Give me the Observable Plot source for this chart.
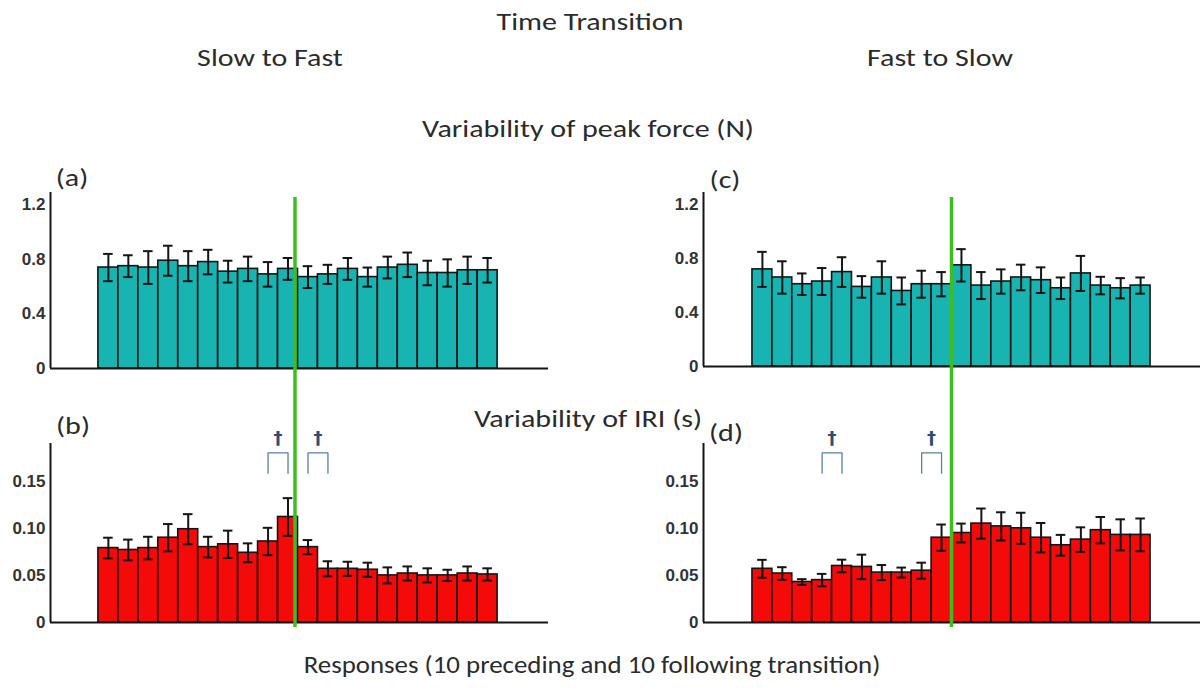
<!DOCTYPE html>
<html>
<head>
<meta charset="utf-8">
<script src="https://cdn.jsdelivr.net/npm/d3@7"></script>
<script src="https://cdn.jsdelivr.net/npm/@observablehq/plot@0.6"></script>
<style>
  html, body { margin: 0; padding: 0; background: #fff; }
  #root { position: relative; width: 1200px; height: 693px; overflow: hidden; background: #fff; }
  .lbl { position: absolute; white-space: nowrap;
         font-family: Carlito, Lato, "Open Sans", sans-serif; color: #2b2b2b; line-height: 1; }
  .panel { position: absolute; }
</style>
</head>
<body>
<div id="root"></div>
<script>
// ---------- data ----------
const responses = [1,2,3,4,5,6,7,8,9,10,11,12,13,14,15,16,17,18,19,20];
const transition = 10;

// Variability of peak force (N)
const forceSlowFastMean = [0.74,0.75,0.74,0.79,0.75,0.78,0.71,0.73,0.69,0.73,0.67,0.69,0.73,0.67,0.74,0.76,0.70,0.70,0.72,0.72];
const forceSlowFastErr  = [0.10,0.08,0.12,0.11,0.11,0.09,0.08,0.09,0.09,0.08,0.08,0.07,0.08,0.07,0.08,0.09,0.09,0.10,0.10,0.09];
const forceFastSlowMean = [0.72,0.66,0.61,0.63,0.70,0.59,0.66,0.56,0.61,0.61,0.75,0.60,0.63,0.66,0.64,0.58,0.69,0.60,0.58,0.60];
const forceFastSlowErr  = [0.13,0.12,0.08,0.10,0.11,0.08,0.12,0.10,0.10,0.09,0.12,0.10,0.09,0.095,0.095,0.08,0.13,0.065,0.075,0.06];

// Variability of IRI (s)
const iriSlowFastMean = [0.079,0.077,0.079,0.090,0.099,0.080,0.083,0.074,0.086,0.112,0.080,0.057,0.057,0.056,0.050,0.052,0.050,0.050,0.052,0.051];
const iriSlowFastErr  = [0.011,0.011,0.012,0.0145,0.016,0.011,0.0145,0.010,0.0145,0.020,0.0075,0.008,0.0075,0.0075,0.0085,0.0075,0.0075,0.006,0.0075,0.0065];
const iriFastSlowMean = [0.057,0.052,0.043,0.045,0.060,0.059,0.053,0.053,0.055,0.090,0.095,0.105,0.102,0.100,0.090,0.082,0.088,0.098,0.093,0.093];
const iriFastSlowErr  = [0.0095,0.0067,0.003,0.0066,0.0067,0.013,0.008,0.0053,0.0085,0.014,0.010,0.016,0.015,0.0165,0.0156,0.011,0.013,0.014,0.0165,0.0174];

// significance brackets (pairs of responses, marked with a dagger)
const sigSlowFast = [[9,10],[11,12]];
const sigFastSlow = [[4,5],[9,10]];

const forceTicks = [0, 0.4, 0.8, 1.2];
const forceTickLabels = ["0", "0.4", "0.8", "1.2"];
const iriTicks = [0, 0.05, 0.10, 0.15];
const iriTickLabels = ["0", "0.05", "0.10", "0.15"];

// ---------- drawing ----------
const root = document.getElementById("root");
const TEAL = "#18b4b2", RED = "#f50a0a", GREEN = "#3cbf1e", INK = "#151515";

function panel(o) {
  const data = responses.map((r, k) => ({r, m: o.mean[k], e: o.err[k]}));
  const labelOf = new Map(o.ticks.map((t, i) => [t, o.tickLabels[i]]));
  const marks = [
    Plot.rectY(data, {x1: d => d.r - 1, x2: d => d.r, y: "m", fill: o.fill, stroke: INK, strokeWidth: 1.6}),
    Plot.ruleX(data, {x: d => d.r - 0.5, y1: d => d.m - d.e, y2: d => d.m + d.e, stroke: INK, strokeWidth: 2}),
    Plot.ruleY(data, {y: d => d.m + d.e, x1: d => d.r - 0.5 - 0.24, x2: d => d.r - 0.5 + 0.24, stroke: INK, strokeWidth: 2}),
    Plot.ruleY(data, {y: d => d.m - d.e, x1: d => d.r - 0.5 - 0.24, x2: d => d.r - 0.5 + 0.24, stroke: INK, strokeWidth: 2}),
    Plot.ruleY([0], {stroke: INK, strokeWidth: 2}),
    Plot.ruleX([o.xDomain[0]], {stroke: INK, strokeWidth: 2}),
    Plot.ruleX([transition], {stroke: GREEN, strokeWidth: 3.5, insetTop: o.greenTop, insetBottom: o.greenBottom, dx: o.greenDx})
  ];
  if (o.sig) {
    const pts = [];
    o.sig.forEach(([a, b], id) => {
      pts.push({id, x: a - 0.5, y: o.bracketLow}, {id, x: a - 0.5, y: o.bracketTop},
               {id, x: b - 0.5, y: o.bracketTop}, {id, x: b - 0.5, y: o.bracketLow});
    });
    marks.push(Plot.line(pts, {x: "x", y: "y", z: "id", stroke: "#5b7fa6", strokeWidth: 1.3}));
    marks.push(Plot.text(o.sig, {x: d => (d[0] + d[1]) / 2 - 0.5, y: o.daggerY, text: () => "\u2020",
      fill: "#2d4c72", fontSize: 18, fontFamily: "DejaVu Sans"}));
  }
  const svg = Plot.plot({
    width: o.width, height: o.height,
    marginLeft: o.marginLeft, marginRight: o.marginRight, marginTop: o.marginTop, marginBottom: o.marginBottom,
    x: {domain: o.xDomain, axis: null},
    y: {domain: [0, o.yMax], ticks: o.ticks, tickFormat: d => labelOf.get(d), tickSize: 0, tickPadding: 5, label: null},
    style: {background: "transparent", overflow: "visible", fontSize: "17px", fontWeight: "bold",
            fontFamily: "Liberation Sans, Arial, sans-serif", color: "#333"},
    marks
  });
  svg.classList.add("panel");
  svg.style.left = o.left + "px";
  svg.style.top = o.top + "px";
  root.appendChild(svg);
}

// top-left (a)
panel({mean: forceSlowFastMean, err: forceSlowFastErr, fill: TEAL, yMax: 1.29, ticks: forceTicks, tickLabels: forceTickLabels,
  left: 0, top: 150, width: 600, height: 300, marginLeft: 50, marginRight: 52, marginTop: 42, marginBottom: 82,
  xDomain: [-2.4, 22.55], greenTop: 5, greenBottom: -75, greenDx: -3});
// top-right (c)
panel({mean: forceFastSlowMean, err: forceFastSlowErr, fill: TEAL, yMax: 1.29, ticks: forceTicks, tickLabels: forceTickLabels,
  left: 600, top: 150, width: 600, height: 300, marginLeft: 103, marginRight: 0, marginTop: 42, marginBottom: 84,
  xDomain: [-2.46, 22.51], greenTop: 5, greenBottom: -77, greenDx: 0});
// bottom-left (b)
panel({mean: iriSlowFastMean, err: iriSlowFastErr, fill: RED, yMax: 0.19, ticks: iriTicks, tickLabels: iriTickLabels,
  left: 0, top: 400, width: 600, height: 240, marginLeft: 50, marginRight: 52, marginTop: 43, marginBottom: 18,
  xDomain: [-2.4, 22.55], greenTop: 0, greenBottom: -5, greenDx: -3,
  sig: sigSlowFast, bracketTop: 0.180, bracketLow: 0.1585, daggerY: 0.196});
// bottom-right (d)
panel({mean: iriFastSlowMean, err: iriFastSlowErr, fill: RED, yMax: 0.19, ticks: iriTicks, tickLabels: iriTickLabels,
  left: 600, top: 400, width: 600, height: 240, marginLeft: 103, marginRight: 0, marginTop: 43, marginBottom: 18,
  xDomain: [-2.46, 22.51], greenTop: 0, greenBottom: -5, greenDx: 0,
  sig: sigFastSlow, bracketTop: 0.180, bracketLow: 0.1585, daggerY: 0.196});

// ---------- text ----------
function label(text, x, y, size, sx) {
  const d = document.createElement("div");
  d.className = "lbl";
  d.textContent = text;
  d.style.left = x + "px";
  d.style.top = y + "px";
  d.style.fontSize = size + "px";
  d.style.transform = `translate(-50%, -50%) scaleX(${sx})`;
  root.appendChild(d);
}
label("Time Transition", 590, 22, 24, 1.25);
label("Slow to Fast", 270, 58, 24, 1.25);
label("Fast to Slow", 940, 58, 24, 1.25);
label("Variability of peak force (N)", 588, 129, 24, 1.25);
label("Variability of IRI (s)", 588, 419, 24, 1.25);
label("(a)", 72, 178, 24, 1.25);
label("(c)", 725, 180, 24, 1.25);
label("(b)", 73, 426, 24, 1.25);
label("(d)", 726, 433, 24, 1.25);
label("Responses (10 preceding and 10 following transition)", 592, 665, 24, 1.12);
</script>
</body>
</html>
